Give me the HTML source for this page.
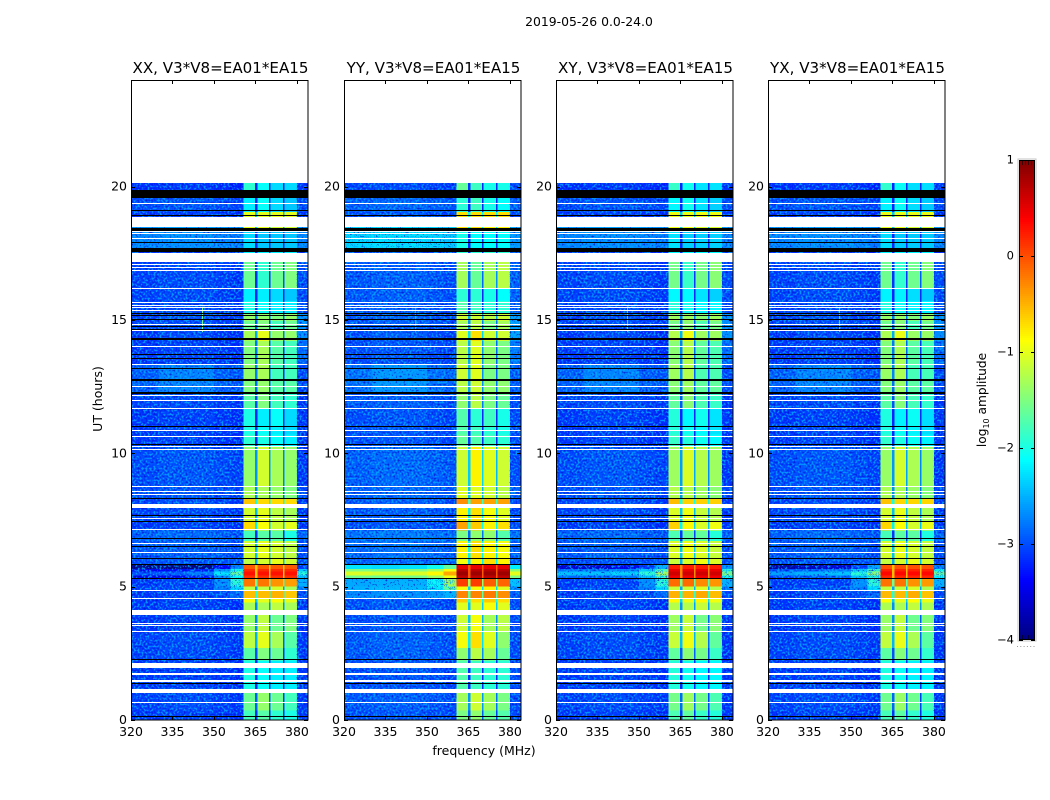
<!DOCTYPE html>
<html>
<head>
<meta charset="utf-8">
<title>2019-05-26 0.0-24.0</title>
<style>
html,body{margin:0;padding:0;background:#fff;}
svg{display:block;}
text{font-family:"DejaVu Sans","Liberation Sans",sans-serif;fill:#000;}
</style>
</head>
<body>
<svg id="fig" xmlns="http://www.w3.org/2000/svg" width="1050" height="800" viewBox="0 0 1050 800">
<defs>
<filter id="speckle" filterUnits="objectBoundingBox" x="0" y="0" width="1" height="1" color-interpolation-filters="sRGB">
<feTurbulence type="fractalNoise" baseFrequency="0.5" numOctaves="1" seed="7" result="n"/>
<feColorMatrix in="n" type="matrix" values="0 0 0 0 0  0 0 0 0 .68  0 0 0 0 1  6 0 0 0 -3.0" result="light"/>
<feColorMatrix in="n" type="matrix" values="0 0 0 0 0  0 0 0 0 .1  0 0 0 0 .8  -6 0 0 0 2.5" result="dark"/>
<feMerge><feMergeNode in="light"/><feMergeNode in="dark"/></feMerge>
</filter>
</defs>
<text x="589" y="26" font-size="12.4" text-anchor="middle">2019-05-26 0.0-24.0</text>
<text x="484" y="755" font-size="12.5" text-anchor="middle">frequency (MHz)</text>
<text x="0" y="0" font-size="12.5" text-anchor="middle" transform="translate(102,399) rotate(-90)">UT (hours)</text>
<text x="0" y="0" font-size="12.2" text-anchor="middle" transform="translate(986,400) rotate(-90)">log<tspan font-size="8" dy="3">10</tspan><tspan dy="-3"> amplitude</tspan></text>
<g id="panels"></g>
<g id="cbar"></g>
</svg>
<script>
// ---- chart data ----
const panelTitles = ['XX, V3*V8=EA01*EA15','YY, V3*V8=EA01*EA15','XY, V3*V8=EA01*EA15','YX, V3*V8=EA01*EA15'];
const freqTicks = [320,335,350,365,380];
const utTicks = [0,5,10,15,20];
const cbarTicks = [1,0,-1,-2,-3,-4];
const freqEdges = [320,330,340,350,356,360.6,364.9,365.7,369.9,370.4,374.9,375.5,380,384];
const dataEndUT = 20.13;
const rowStart = [0,0.35,1.03,2.23,2.7,3.3,3.95,4.4,4.55,4.85,5.0,5.3,5.82,6.05,6.72,7.1,7.43,7.96,8.3,8.75,10.28,10.7,11.03,11.67,12.27,12.71,13.31,14.21,14.59,14.96,15.26,15.71,16.16,17.17,17.55,18.33,18.86,19.05,19.57,19.87];
const rowBg = [-3.15,-3.1,-3.15,-3.1,-3.1,-3.15,-3.15,-3.15,-3.15,-3.1,-3.15,-3.15,-3.05,-3.0,-2.95,-3.15,-3.1,-3.1,-3.05,-3.05,-3.15,-3.15,-3.15,-3.1,-2.95,-2.95,-3.15,-3.15,-3.1,-3.1,-3.1,-3.1,-3.1,-3.15,-2.75,-2.65,-3.15,-3.05,-3.15,-3.2];
const rowBand1 = [-1.8,-1.6,-2.0,-1.7,-1.2,-1.4,-1.3,-0.9,-0.55,-1.2,-0.2,0.3,-1.2,-1.1,-1.8,-0.7,-1.1,-0.6,-1.3,-1.4,-1.9,-2.0,-2.0,-1.7,-1.5,-1.4,-1.5,-1.3,-1.6,-1.4,-2.0,-2.2,-1.6,-2.2,-2.3,-1.0,-1.0,-2.2,-2.4,-1.9];
const rowBand2 = [-1.7,-1.4,-2.1,-1.5,-1.0,-1.2,-1.3,-1.0,-0.55,-1.2,-0.2,0.3,-1.1,-1.0,-1.7,-0.9,-1.0,-0.7,-1.3,-1.1,-2.0,-2.1,-2.2,-1.5,-1.4,-1.3,-1.3,-1.0,-1.5,-1.4,-2.1,-2.2,-1.9,-2.2,-2.4,-1.0,-1.0,-2.1,-2.3,-2.1];
const rowBand3 = [-1.9,-1.6,-2.2,-1.6,-1.3,-1.6,-1.2,-0.9,-0.5,-1.1,-0.35,0.3,-1.0,-1.1,-1.7,-1.1,-1.2,-0.7,-1.4,-1.3,-2.1,-2.2,-2.1,-1.8,-1.7,-1.8,-1.7,-1.4,-1.8,-1.5,-2.2,-2.3,-1.6,-2.2,-2.4,-1.1,-1.0,-2.3,-2.5,-2.3];
const rowBand4 = [-2.0,-1.8,-2.2,-1.9,-1.7,-1.5,-1.3,-1.0,-0.6,-1.3,-0.4,0.3,-1.1,-1.2,-2.0,-1.0,-1.3,-0.7,-1.5,-1.4,-2.2,-2.3,-2.3,-1.9,-1.7,-1.8,-1.8,-1.4,-1.6,-1.4,-2.2,-2.4,-1.5,-2.2,-2.4,-1.1,-1.0,-2.4,-2.6,-2.3];
const rowEdge = [-3.15,-3.15,-3.15,-3.15,-3.15,-3.15,-3.15,-3.15,-3.05,-2.8,-2.5,-1.9,-3.05,-3.05,-2.95,-3.15,-3.15,-3.15,-3.05,-3.15,-3.15,-3.15,-3.15,-3.15,-3.05,-3.05,-2.9,-2.7,-2.7,-2.7,-3.05,-3.05,-3.05,-3.15,-2.75,-2.65,-3.15,-3.05,-3.15,-3.15];
const rowSkirt = [0,0,0,0,0,0,0,0,0.3,0.9,1.3,0,0.1,0,0,0,0,0,0,0,0,0,0,0,0,0,0,0,0,0,0,0,0,0,0,0,0,0,0,0];
const rowPatch = [0,0,0,0,0,0,0,0,0,0,0,0,0,0,0,0,0,0,0,0,0,0,0,0,0.15,0.15,0,0.05,0,0.05,0,0,0,0,0,0,0,0,0,0];
const rowYYExtra = [0,0,0,0,0,0,0,0,0.3,0.5,0.5,0,0,0,0,0,0,0,0,0,0,0,0,0,0,0,0,0,0,0,0,0,0,0,0.35,0.25,0,0,0,0];
const colTilt = [0,0.05,0.05,0,-0.05];
const panelBandShift = [0,0.28,0.05,0.02];
const panelBgShift = [0,0.1,0,0];
const rfiRowIndex = 11;
const rfiEdges = [5.3,5.41,5.56,5.67,5.82];
const rfiShape = [-0.5,0,-0.45,-1.2];
const rfiProfileXX = [-3.0,-2.95,-2.8,-2.2,-1.6];
const rfiProfileYY = [-1.05,-1.1,-1.05,-0.85,-0.45];
const rfiProfileXY = [-2.4,-2.4,-2.3,-1.9,-1.3];
const rfiProfileYX = [-2.6,-2.5,-2.4,-1.9,-1.4];
const rfiBand = [0.3,0.85,0.6,0.35];
const rfiEdge = [-1.9,-1.0,-1.5,-1.6];
const whiteLo = [0.64,1.03,1.44,1.70,1.94,3.30,3.53,3.61,3.95,4.54,4.84,6.26,6.60,7.11,7.54,7.96,8.44,8.55,8.74,10.12,10.23,10.61,10.83,11.66,11.96,12.14,12.48,13.30,13.98,14.58,14.80,15.36,15.44,15.55,15.66,16.15,16.86,16.94,17.06,17.17,18.03,18.22,18.30,18.48,19.35];
const whiteHi = [0.68,1.18,1.50,1.75,2.13,3.35,3.56,3.64,4.11,4.58,4.88,6.30,6.64,7.15,7.58,8.11,8.47,8.58,8.78,10.15,10.26,10.65,10.87,11.70,12.00,12.18,12.52,13.34,14.02,14.62,14.84,15.39,15.47,15.58,15.69,16.19,16.89,16.97,17.09,17.51,18.07,18.25,18.33,18.86,19.39];
const blackLo = [0.12,1.37,2.24,5.28,5.81,6.04,6.49,6.79,7.42,7.67,8.27,10.31,10.99,12.22,12.72,13.16,13.53,13.68,14.26,14.65,14.73,14.99,15.14,15.24,17.54,17.87,18.35,18.89,19.10,19.57];
const blackHi = [0.15,1.40,2.27,5.32,5.84,6.07,6.52,6.82,7.45,7.70,8.33,10.34,11.02,12.29,12.79,13.19,13.56,13.71,14.33,14.68,14.76,15.02,15.17,15.27,17.70,17.92,18.44,18.92,19.13,19.87];
const spikeFreq = [345.7,345.7,345.7,345.7];
const spikeLo = [14.55,14.55,14.55,14.55];
const spikeHi = [15.5,15.5,15.5,15.5];
const spikeLevel = [-1.5,-2.4,-2.1,-2.1];

// ---- layout ----
const NS = 'http://www.w3.org/2000/svg';
const axesLeft = [131,344,556,768];
const axesWidth = 177, axesTop = 80, axesBottom = 720;
const freqMin = 320, freqMax = 384, utMin = 0, utMax = 24;
const profiles = [rfiProfileXX, rfiProfileYY, rfiProfileXY, rfiProfileYX];
const bandArrays = [rowBand1, rowBand2, rowBand3, rowBand4];
function xScale(p, f){ return axesLeft[p] + (f - freqMin) / (freqMax - freqMin) * axesWidth; }
function yScale(u){ return axesBottom - (u - utMin) / (utMax - utMin) * (axesBottom - axesTop); }
function jet(v){
  const t = Math.max(0, Math.min(1, (v + 4) / 5));
  const c = a => Math.round(255 * Math.max(0, Math.min(1, a)));
  const r = c(Math.min(4 * t - 1.5, -4 * t + 4.5));
  const g = c(Math.min(4 * t - 0.5, -4 * t + 3.5));
  const b = c(Math.min(4 * t + 0.5, -4 * t + 2.5));
  return 'rgb(' + r + ',' + g + ',' + b + ')';
}
function mk(tag, parent, attrs){
  const el = document.createElementNS(NS, tag);
  for (const k in attrs) el.setAttribute(k, attrs[k]);
  parent.appendChild(el);
  return el;
}
function level(r, c, p){
  if (c < 5){
    let v = rowBg[r] + panelBgShift[p] + colTilt[c];
    if (c === 1 || c === 2) v += rowPatch[r];
    if (c === 4) v += rowSkirt[r];
    if (c === 3) v += rowSkirt[r] * 0.35;
    if (p === 1) v += rowYYExtra[r];
    return v;
  }
  if (c === 12) return rowEdge[r] + panelBgShift[p];
  const b = (c - 5) / 2;
  if (Number.isInteger(b)) return bandArrays[b][r] + panelBandShift[p];
  const lo = bandArrays[Math.floor(b)][r], hi = bandArrays[Math.ceil(b)][r];
  return Math.max((lo + hi) / 2 + panelBandShift[p] - 1.4, -3.2);
}
function rfiLevel(k, c, p){
  if (c < 5) return profiles[p][c] + rfiShape[k];
  if (c === 12) return rfiEdge[p] + rfiShape[k];
  const b = (c - 5) / 2;
  if (Number.isInteger(b)) return rfiBand[p] + rfiShape[k] * 0.3;
  return rfiBand[p] - 0.9;
}
function cell(g, p, c, u0, u1, v){
  const x0 = xScale(p, freqEdges[c]), x1 = xScale(p, freqEdges[c + 1]);
  const y0 = yScale(u1), y1 = yScale(u0);
  const rect = mk('rect', g, {x: x0, y: y0, width: x1 - x0, height: y1 - y0, fill: jet(v)});
  
  
}
const panelsG = document.getElementById('panels');
panelTitles.forEach((title, p) => {
  const g = mk('g', panelsG, {});
  
  
  const hm = mk('g', g, {'shape-rendering': 'crispEdges'});
  
  
  rowStart.forEach((s, r) => {
    const e = r + 1 < rowStart.length ? rowStart[r + 1] : dataEndUT;
    for (let c = 0; c < freqEdges.length - 1; c++){
      if (r === rfiRowIndex){
        rfiShape.forEach((_, k) => cell(hm, p, c, rfiEdges[k], rfiEdges[k + 1], rfiLevel(k, c, p)));
      } else {
        cell(hm, p, c, s, e, level(r, c, p));
      }
    }
  });
  // background noise texture (visual grain only); the YY panel stays smooth across its bright RFI line
  const grainSpans = p === 1 ? [[0, 5.3], [5.82, dataEndUT]] : [[0, dataEndUT]];
  grainSpans.forEach(([u0, u1]) => {
    [[320, 360.6], [380, 384]].forEach(([a, b]) => {
      const n = mk('rect', g, {x: xScale(p, a), y: yScale(u1), width: xScale(p, b) - xScale(p, a), height: yScale(u0) - yScale(u1), fill: '#000', filter: 'url(#speckle)', opacity: 0.8});
      
      
    });
  });
  const sp = mk('rect', g, {x: xScale(p, spikeFreq[p]), y: yScale(spikeHi[p]), width: 1, height: yScale(spikeLo[p]) - yScale(spikeHi[p]), fill: jet(spikeLevel[p])});
  
  
  const flags = mk('g', g, {'shape-rendering': 'crispEdges'});
  
  
  whiteLo.forEach((lo, i) => {
    const y = Math.round(yScale(whiteHi[i]));
    const h = Math.max(1, Math.round(yScale(lo)) - y);
    const w = mk('rect', flags, {x: axesLeft[p], y: y, width: axesWidth, height: h, fill: '#fff'});
    
    
  });
  blackLo.forEach((lo, i) => {
    const y = Math.round(yScale(blackHi[i]));
    const h = Math.max(1, Math.round(yScale(lo)) - y);
    const b = mk('rect', flags, {x: axesLeft[p], y: y, width: axesWidth, height: h, fill: '#000'});
    
    
  });
  // frame
  const frame = mk('rect', g, {x: axesLeft[p] + 0.5, y: axesTop + 0.5, width: axesWidth - 0.5, height: axesBottom - axesTop - 0.5, fill: 'none', stroke: '#000', 'stroke-width': 1});
  
  
  // ticks
  freqTicks.forEach(f => {
    const x = Math.round(xScale(p, f)) + 0.5;
    [[axesTop, axesTop + 4], [axesBottom - 4, axesBottom]].forEach(([a, b]) => {
      const t = mk('line', g, {x1: x, x2: x, y1: a, y2: b, stroke: '#000', 'stroke-width': 1});
      
      
    });
    const lab = mk('text', g, {x: xScale(p, f), y: 736, 'font-size': 12.5, 'text-anchor': 'middle'});
    lab.textContent = f;
    
    
  });
  utTicks.forEach(u => {
    const y = Math.round(yScale(u)) + 0.5;
    [[axesLeft[p], axesLeft[p] + 4], [axesLeft[p] + axesWidth - 4, axesLeft[p] + axesWidth]].forEach(([a, b]) => {
      const t = mk('line', g, {x1: a, x2: b, y1: y, y2: y, stroke: '#000', 'stroke-width': 1});
      
      
    });
    const lab = mk('text', g, {x: axesLeft[p] - 4, y: yScale(u) + 4, 'font-size': 12.5, 'text-anchor': 'end'});
    lab.textContent = u;
    
    
  });
  const tt = mk('text', g, {x: axesLeft[p] + axesWidth / 2 + 1, y: 73, 'font-size': 15.1, 'text-anchor': 'middle'});
  tt.textContent = title;
  
  
});

// ---- colorbar ----
const cbarG = document.getElementById('cbar');
const cbX = 1019, cbW = 16, cbTop = 160, cbBottom = 640;
const cbMin = -4, cbMax = 1;
function cbY(v){ return cbBottom - (v - cbMin) / (cbMax - cbMin) * (cbBottom - cbTop); }
const cbarBody = mk('g', cbarG, {'shape-rendering': 'crispEdges'});


for (let i = 0; i < 240; i++){
  const v = cbMin + (i + 0.5) / 240 * (cbMax - cbMin);
  mk('rect', cbarBody, {x: cbX, y: cbBottom - (i + 1) * 2, width: cbW, height: 2, fill: jet(v)});
}
const cbOuter = mk('rect', cbarG, {x: cbX - 1, y: cbTop - 1, width: cbW + 2, height: cbBottom - cbTop + 2, fill: 'none', stroke: '#c4c4c4', 'stroke-width': 1});


const cbInner = mk('rect', cbarG, {x: cbX + 0.5, y: cbTop + 0.5, width: cbW - 1, height: cbBottom - cbTop - 1, fill: 'none', stroke: '#000', 'stroke-width': 1});


cbarTicks.forEach(v => {
  const y = Math.round(cbY(v)) + 0.5;
  [[cbX, cbX + 4], [cbX + cbW - 4, cbX + cbW]].forEach(([a, b]) => {
    const t = mk('line', cbarG, {x1: a, x2: b, y1: y, y2: y, stroke: '#000', 'stroke-width': 1});
    
    
  });
  const lab = mk('text', cbarG, {x: 1014, y: cbY(v) + 3.5, 'font-size': 11.5, 'text-anchor': 'end'});
  lab.textContent = v < 0 ? '\u2212' + Math.abs(v) : String(v);
  
  
});
[cbTop, cbBottom - 5].forEach(y0 => {
  for (let x = cbX + 3.5; x < cbX + cbW - 1; x += 3){
    const m = mk('line', cbarG, {x1: x, x2: x, y1: y0, y2: y0 + 5, stroke: '#000', 'stroke-width': 0.8, opacity: 0.7});
    
    
  }
});
const dots = mk('line', cbarG, {x1: 1017, x2: 1036, y1: 646.5, y2: 646.5, stroke: '#999', 'stroke-width': 1, 'stroke-dasharray': '1 2.3'});


</script>
</body>
</html>
